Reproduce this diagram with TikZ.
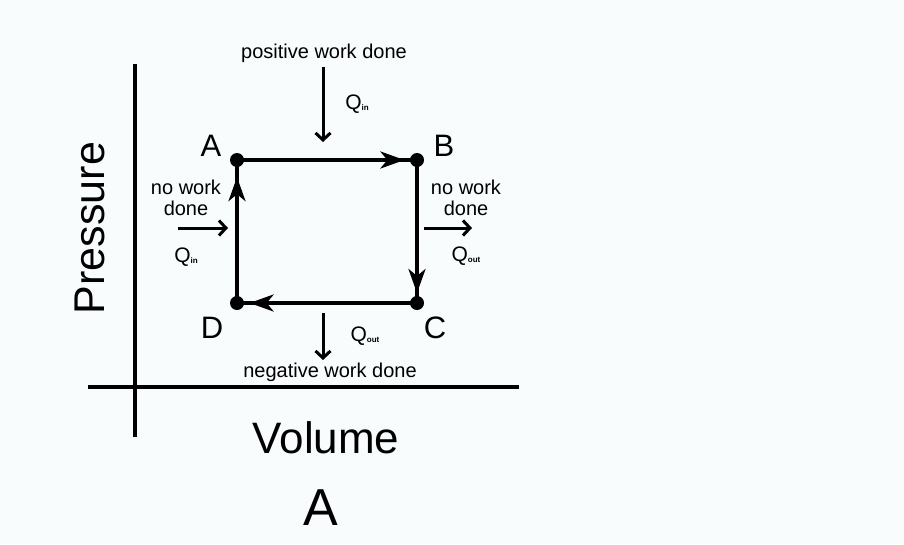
\documentclass[tikz,border=0pt]{standalone}
\usepackage{fontspec}
\setmainfont{Liberation Sans}
\usetikzlibrary{arrows.meta,decorations.markings}
\definecolor{bg}{HTML}{F8FCFD}
\newcommand{\fs}[1]{\fontsize{#1}{#1}\selectfont}
\tikzset{
  cyc/.style={line width=3.6pt, postaction={decorate}, decoration={markings, mark=at position #1 with {\arrow{Stealth[length=24pt,width=17pt,inset=7pt]}}}},
  dot/.style={circle, fill=black, inner sep=0pt, minimum size=14pt},
  heat/.style={line width=3pt, -{Straight Barb[length=7pt,width=15pt,line width=3pt]}},
  axis/.style={line width=4pt},
  lbl/.style={font=\fs{31}, inner sep=0pt},
  small/.style={font=\fs{20}, inner sep=0pt, align=center},
}
\newcommand{\Qs}[1]{\fs{21}Q\raisebox{-1pt}{\fs{8}\bfseries#1}}
\begin{document}
\begin{tikzpicture}[x=1pt,y=1pt]
\fill[bg] (0,0) rectangle (904,-544);
\useasboundingbox (0,0) rectangle (904,-544);
% axes
\coordinate (yt) at (135,-64);
\coordinate (yb) at (135,-437);
\coordinate (xl) at (88,-387);
\coordinate (xr) at (519,-387);
\draw[axis] (yt) -- (yb);
\draw[axis] (xl) -- (xr);
\node[font=\fs{43}, rotate=90, inner sep=0pt] (pres) at (90,-228) {Pressure};
\node[font=\fs{44}, inner sep=0pt] (vol) at (326,-438) {Volume};
\node[font=\fs{52}, inner sep=0pt] (big) at (321,-508) {A};
% cycle
\node[dot] (A) at (237,-160) {};
\node[dot] (B) at (417,-160) {};
\node[dot] (C) at (417,-303) {};
\node[dot] (D) at (237,-303) {};
\draw[cyc=0.93] (A.center) -- (B.center);
\draw[cyc=0.93] (B.center) -- (C.center);
\draw[cyc=0.93] (C.center) -- (D.center);
\draw[cyc=0.88] (D.center) -- (A.center);
\node[lbl] (la) at (211,-146) {A};
\node[lbl] (lb) at (444,-146) {B};
\node[lbl] (lc) at (435,-328) {C};
\node[lbl] (ld) at (212,-328) {D};
% top
\node[small] (pos) at (324,-53) {positive work done};
\coordinate (t1) at (323,-67);
\coordinate (t2) at (323,-142);
\draw[heat] (t1) -- (t2);
\node[small] (qt) at (357,-104) {\Qs{in}};
% right
\node[small] (rw) at (466,-198) {no work\\[1pt]done};
\coordinate (r1) at (424,-228);
\coordinate (r2) at (472,-228);
\draw[heat] (r1) -- (r2);
\node[small] (qr) at (466,-256) {\Qs{out}};
% left
\node[small] (lw) at (186,-198) {no work\\[1pt]done};
\coordinate (l1) at (178,-228);
\coordinate (l2) at (228,-228);
\draw[heat] (l1) -- (l2);
\node[small] (ql) at (186,-257) {\Qs{in}};
% bottom
\coordinate (b1) at (323,-313);
\coordinate (b2) at (323,-360);
\draw[heat] (b1) -- (b2);
\node[small] (qb) at (365,-336) {\Qs{out}};
\node[small] (neg) at (330,-372) {negative work done};
\end{tikzpicture}
\end{document}
